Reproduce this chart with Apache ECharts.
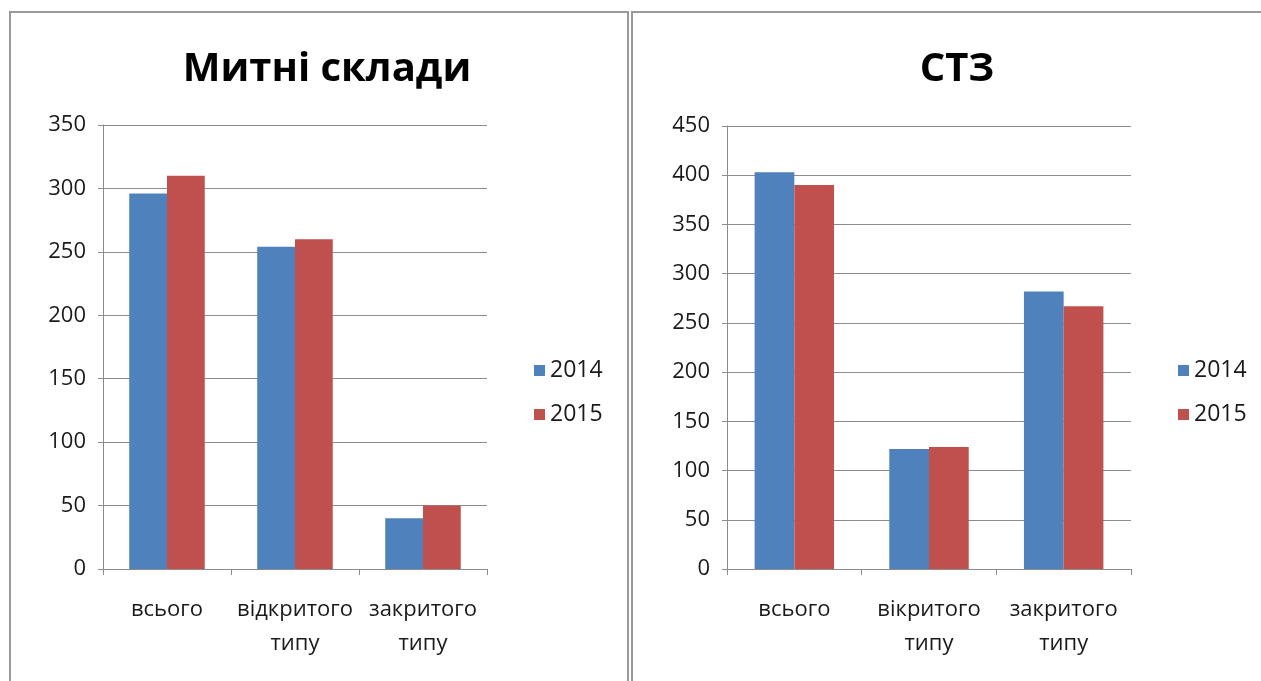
<!DOCTYPE html>
<html>
<head>
<meta charset="utf-8">
<script src="https://cdn.jsdelivr.net/npm/echarts@6/dist/echarts.min.js"></script>
<style>
  html, body { margin: 0; padding: 0; background: #fff; }
  #chart-container { width: 1261px; height: 681px; }
</style>
</head>
<body>
<div id="chart-container"></div>
<script>
var dom = document.getElementById("chart-container");
var myChart = echarts.init(dom, null, { renderer: "canvas" });

// дані
const years = ["2014", "2015"];
const catsLeft = ["всього", "відкритого\nтипу", "закритого\nтипу"];
const catsRight = ["всього", "вікритого\nтипу", "закритого\nтипу"];
const leftYTicks = { min: 0, max: 350, step: 50 };
const rightYTicks = { min: 0, max: 450, step: 50 };
const warehouses2014 = [296, 254, 40];
const warehouses2015 = [310, 260, 50];
const stz2014 = [403, 122, 282];
const stz2015 = [390, 124, 267];

const BLUE = "#4F81BD";
const RED = "#C0504D";
const FONT = "'Open Sans', 'Noto Sans', sans-serif";

function catAxis(gridIndex, cats) {
  return {
    type: "category",
    gridIndex: gridIndex,
    data: cats,
    axisLine: { lineStyle: { color: "#8c8c8c", width: 1 } },
    axisTick: { show: true, length: 6, lineStyle: { color: "#8c8c8c" } },
    axisLabel: {
      color: "#1a1a1a",
      fontSize: 22,
      fontFamily: FONT,
      lineHeight: 34,
      margin: 24,
      interval: 0,
    },
  };
}

function valAxis(gridIndex, t) {
  return {
    type: "value",
    gridIndex: gridIndex,
    min: t.min,
    max: t.max,
    interval: t.step,
    axisLine: { show: true, lineStyle: { color: "#8c8c8c", width: 1 } },
    axisTick: { show: true, length: 5, lineStyle: { color: "#8c8c8c" } },
    axisLabel: { color: "#1a1a1a", fontSize: 22, fontFamily: FONT, margin: 17 },
    splitLine: { lineStyle: { color: "#8c8c8c", width: 1 } },
  };
}

function bar(name, data, color, idx) {
  return {
    name: name,
    type: "bar",
    data: data,
    xAxisIndex: idx,
    yAxisIndex: idx,
    barGap: "0%",
    barCategoryGap: "41%",
    itemStyle: { color: color },
    animation: false,
  };
}

function legendAt(left) {
  return {
    orient: "vertical",
    left: left,
    top: 354,
    itemWidth: 11,
    itemHeight: 11,
    itemGap: 21,
    icon: "rect",
    data: years,
    textStyle: { fontSize: 23, color: "#1a1a1a", fontFamily: FONT },
  };
}

var option = {
  backgroundColor: "#fff",
  title: [
    {
      text: "Митні склади",
      left: 322,
      top: 45,
      textAlign: "center",
      textStyle: { fontSize: 40, fontWeight: "bold", color: "#000", fontFamily: FONT },
    },
    {
      text: "СТЗ",
      left: 952,
      top: 45,
      textAlign: "center",
      textStyle: { fontSize: 40, fontWeight: "bold", color: "#000", fontFamily: FONT },
    },
  ],
  legend: [legendAt(529), legendAt(1173)],
  grid: [
    { left: 103, top: 125, width: 384, height: 444 },
    { left: 727, top: 126, width: 404, height: 443 },
  ],
  xAxis: [catAxis(0, catsLeft), catAxis(1, catsRight)],
  yAxis: [valAxis(0, leftYTicks), valAxis(1, rightYTicks)],
  graphic: [
    {
      type: "rect",
      shape: { x: 10, y: 12, width: 618, height: 700 },
      style: { fill: "none", stroke: "#999", lineWidth: 2 },
      silent: true,
    },
    {
      type: "rect",
      shape: { x: 632, y: 12, width: 700, height: 700 },
      style: { fill: "none", stroke: "#999", lineWidth: 2 },
      silent: true,
    },
  ],
  series: [
    bar("2014", warehouses2014, BLUE, 0),
    bar("2015", warehouses2015, RED, 0),
    bar("2014", stz2014, BLUE, 1),
    bar("2015", stz2015, RED, 1),
  ],
};

if (option && typeof option === "object") {
  myChart.setOption(option);
}

window.addEventListener("resize", myChart.resize);
</script>
</body>
</html>
